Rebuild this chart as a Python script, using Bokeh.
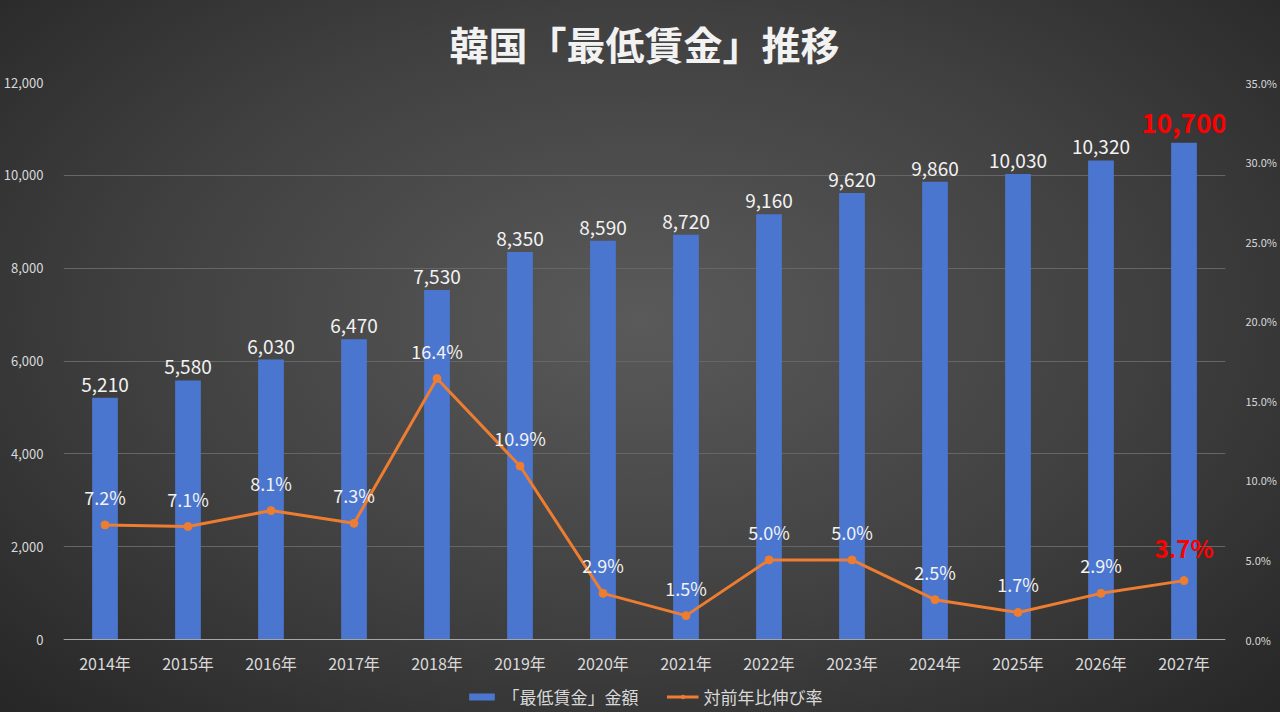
from bokeh.plotting import figure
from bokeh.models import (ColumnDataSource, Range1d, LinearAxis, FixedTicker,
                          NumeralTickFormatter, Legend, Span)
from bokeh.core.properties import value
from bokeh.embed import file_html
from bokeh.resources import INLINE

## Data
years = ["2014年", "2015年", "2016年", "2017年", "2018年", "2019年", "2020年",
         "2021年", "2022年", "2023年", "2024年", "2025年", "2026年", "2027年"]
wage = [5210, 5580, 6030, 6470, 7530, 8350, 8590, 8720, 9160, 9620, 9860,
        10030, 10320, 10700]
growth = [7.2, 7.1, 8.1, 7.3, 16.4, 10.9, 2.9, 1.5, 5.0, 5.0, 2.5, 1.7, 2.9, 3.7]

left_ticks = [0, 2000, 4000, 6000, 8000, 10000, 12000]
right_ticks = [0, 0.05, 0.10, 0.15, 0.20, 0.25, 0.30, 0.35]

FONT = "Noto Sans CJK JP"

src = ColumnDataSource(data=dict(
    year=years,
    wage=wage,
    rate=[g / 100 for g in growth],
    zero=[0] * len(years),
    wage_txt=[f"{w:,}" for w in wage],
    rate_txt=[f"{g:.1f}%" for g in growth],
))
# the last year is highlighted in red
normal = ColumnDataSource(data={k: v[:-1] for k, v in src.data.items()})
latest = ColumnDataSource(data={k: v[-1:] for k, v in src.data.items()})

# the frame runs down to the bottom edge so the legend can sit under the
# year labels; the value axis itself spans 557px
AXIS_PX, FRAME_PX = 557, 630
wage_max, rate_max = 12000, 0.35
wage_min = -wage_max * (FRAME_PX - AXIS_PX) / AXIS_PX
rate_min = -rate_max * (FRAME_PX - AXIS_PX) / AXIS_PX

p = figure(frame_width=1162, frame_height=FRAME_PX, x_range=years,
           y_range=Range1d(wage_min, wage_max), x_axis_location=None,
           output_backend="svg", toolbar_location=None,
           title="韓国「最低賃金」推移")
p.extra_y_ranges = {"pct": Range1d(rate_min, rate_max)}

# radial grey background behind a transparent canvas
p.background_fill_alpha = 0
p.border_fill_alpha = 0
p.styles = {"background": "radial-gradient(ellipse at 50% 45%, #5a5a5a 0%, "
                          "#404040 55%, #262626 100%)"}
p.outline_line_color = None
p.min_border_left = 56
p.min_border_right = 46
p.min_border_top = 0
p.min_border_bottom = 0

p.title.align = "center"
p.title.text_font = FONT
p.title.text_font_size = "39px"
p.title.text_font_style = "bold"
p.title.text_color = "#f2f2f2"
p.title.standoff = 24

bars = p.vbar(x="year", top="wage", width=0.31, source=src,
              fill_color="#4a76d0", line_color=None)
line = p.line(x="year", y="rate", source=src, y_range_name="pct",
              line_color="#ed7d31", line_width=3)
dots = p.scatter(x="year", y="rate", source=src, y_range_name="pct",
                 size=8, fill_color="#ed7d31", line_color="#ed7d31")

# baseline and year labels
p.add_layout(Span(location=0, dimension="width", line_color="#a6a6a6",
                  line_width=1))
p.text(x="year", y="zero", text="year", source=src,
       text_align="center", text_baseline="middle", y_offset=23,
       text_font=value(FONT), text_font_size="16px", text_color="#d9d9d9")

# value labels
p.text(x="year", y="wage", text="wage_txt", source=normal,
       text_align="center", text_baseline="bottom", y_offset=-6,
       text_font=value(FONT), text_font_size="19px", text_color="#f2f2f2")
p.text(x="year", y="rate", text="rate_txt", source=normal, y_range_name="pct",
       text_align="center", text_baseline="bottom", y_offset=-15,
       text_font=value(FONT), text_font_size="18px", text_color="#f2f2f2")
p.text(x="year", y="wage", text="wage_txt", source=latest,
       text_align="center", text_baseline="bottom", y_offset=-10,
       text_font=value(FONT), text_font_size="26px", text_font_style="bold",
       text_color="#ff0000")
p.text(x="year", y="rate", text="rate_txt", source=latest, y_range_name="pct",
       text_align="center", text_baseline="bottom", y_offset=-16,
       text_font=value(FONT), text_font_size="24px", text_font_style="bold",
       text_color="#ff0000")

# axes
p.yaxis.ticker = FixedTicker(ticks=left_ticks)
p.yaxis.formatter = NumeralTickFormatter(format="0,0")
right = LinearAxis(y_range_name="pct", ticker=FixedTicker(ticks=right_ticks),
                   formatter=NumeralTickFormatter(format="0.0%"))
p.add_layout(right, "right")

for ax in [p.yaxis[0], right]:
    ax.axis_line_color = None
    ax.major_tick_line_color = None
    ax.minor_tick_line_color = None
    ax.major_label_text_color = "#d9d9d9"
    ax.major_label_text_font = FONT
    ax.major_label_standoff = 14
p.yaxis[0].major_label_text_font_size = "13px"
right.major_label_text_font_size = "11px"

p.xgrid.grid_line_color = None
p.ygrid.grid_line_color = "#666666"
p.ygrid.ticker = FixedTicker(ticks=left_ticks)

legend = Legend(items=[("「最低賃金」金額", [bars]), ("対前年比伸び率", [line, dots])],
                orientation="horizontal", location="bottom_center",
                background_fill_alpha=0, border_line_color=None,
                label_text_color="#d9d9d9", label_text_font=FONT,
                label_text_font_size="17px", glyph_width=32, glyph_height=9,
                label_height=18, spacing=28, margin=3, padding=2)
p.add_layout(legend)

open("out.html", "w").write(file_html(p, INLINE))
